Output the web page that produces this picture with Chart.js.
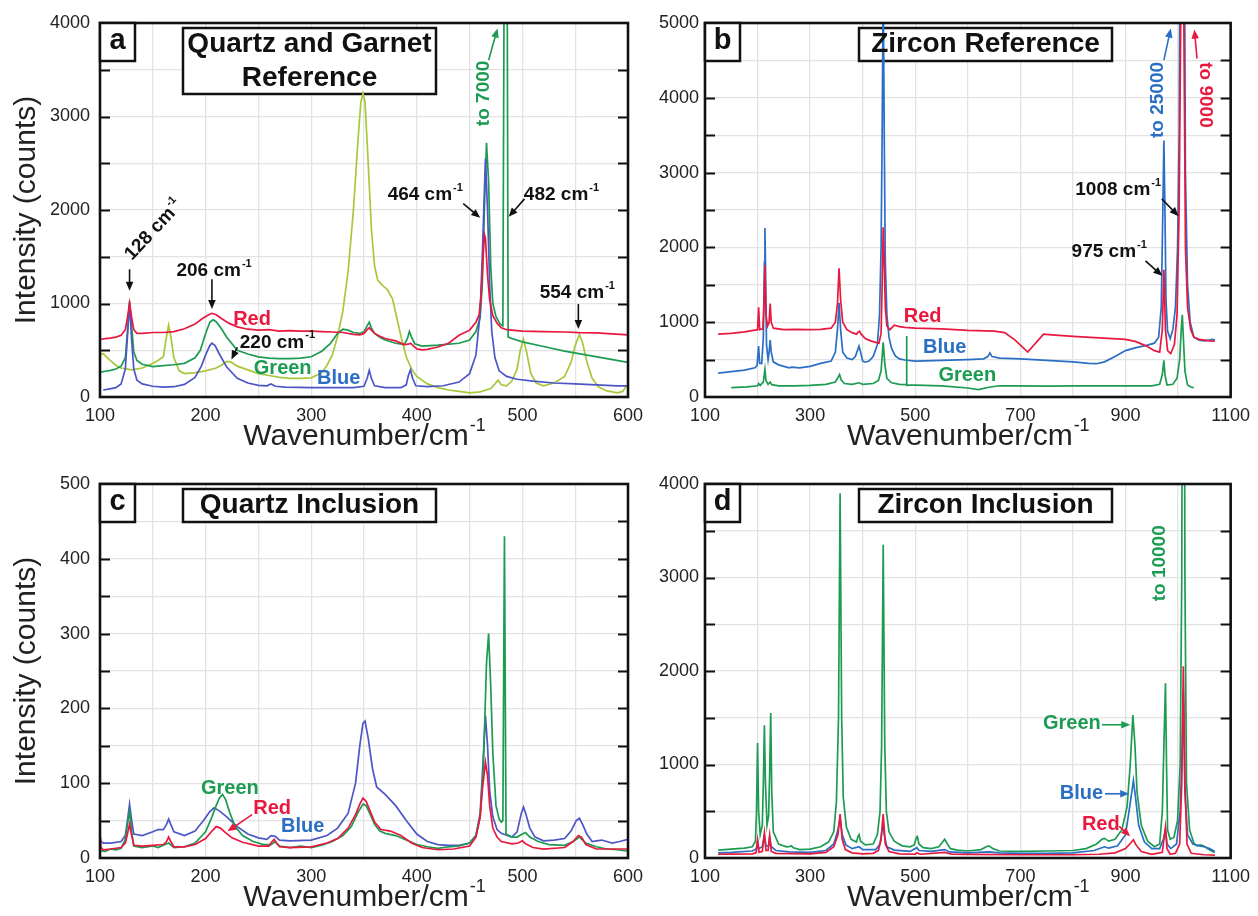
<!DOCTYPE html>
<html>
<head>
<meta charset="utf-8">
<script src="https://cdn.jsdelivr.net/npm/chart.js@4.4.1/dist/chart.umd.min.js"></script>
<style>
  html, body { margin: 0; padding: 0; background: #fff; width: 1258px; height: 916px; overflow: hidden; }
  .panel { position: absolute; }
  canvas { display: block; }
</style>
</head>
<body>
<div class="panel" style="left:0;top:0"><canvas id="panelA" width="660" height="458"></canvas></div>
<div class="panel" style="left:620px;top:0"><canvas id="panelB" width="638" height="458"></canvas></div>
<div class="panel" style="left:0;top:460px"><canvas id="panelC" width="660" height="456"></canvas></div>
<div class="panel" style="left:620px;top:460px"><canvas id="panelD" width="638" height="456"></canvas></div>
<script>
const FONT = "'Liberation Sans', Arial, Helvetica, sans-serif";

// ---- tick labels ----
const quartzXTicks = [100, 200, 300, 400, 500, 600];
const zirconXTicks = [100, 300, 500, 700, 900, 1100];
const quartzRefYTicks = [0, 1000, 2000, 3000, 4000];
const zirconRefYTicks = [0, 1000, 2000, 3000, 4000, 5000];
const quartzIncYTicks = [0, 100, 200, 300, 400, 500];
const zirconIncYTicks = [0, 1000, 2000, 3000, 4000];

// ---- (a) quartz and garnet reference spectra: [wavenumber, counts] ----
const qgRefRed = [[100,615],[105,625],[110,630],[115,640],[120,660],[124,720],[126,850],[128,1005],[130,850],[132,720],[135,680],[140,680],[150,690],[160,690],[170,700],[180,730],[190,780],[197,840],[203,880],[206,895],[210,880],[215,840],[222,790],[230,750],[240,725],[250,715],[260,720],[270,705],[280,710],[290,705],[300,705],[310,700],[320,695],[330,690],[340,670],[346,665],[350,680],[353,720],[355,740],[357,715],[360,680],[365,650],[370,625],[380,600],[388,560],[392,565],[394,575],[396,555],[400,515],[405,505],[410,510],[420,535],[430,575],[440,660],[450,715],[456,800],[459,880],[461,1100],[463,1550],[464,1740],[465,1700],[467,1300],[469,1040],[472,870],[476,790],[480,740],[485,720],[490,715],[500,705],[520,700],[540,695],[554,688],[570,685],[585,675],[600,665]];
const qgRefQuartzGreen = [[100,265],[105,275],[110,285],[115,300],[120,330],[124,420],[126,700],[128,1025],[130,750],[132,480],[135,390],[140,350],[150,325],[160,335],[170,345],[180,360],[190,420],[195,500],[200,680],[204,800],[207,825],[210,805],[215,730],[220,640],[230,500],[240,460],[250,430],[260,415],[270,410],[280,410],[290,415],[300,430],[310,490],[318,570],[325,680],[330,725],[335,715],[340,690],[346,680],[350,700],[353,760],[355,800],[357,740],[360,680],[365,640],[370,610],[380,575],[388,560],[391,620],[393,700],[395,640],[398,570],[405,545],[420,555],[440,575],[450,610],[456,700],[460,850],[462,1200],[464,2000],[466,2720],[468,2300],[470,1400],[472,1000],[475,860],[479,780],[481.5,760],[483.5,7000],[485,7000],[486.5,640],[490,625],[500,590],[520,540],[540,490],[560,450],[580,410],[600,370]];
const qgRefQuartzBlue = [[103,75],[108,85],[115,100],[120,140],[124,300],[126,650],[128,1000],[130,600],[132,300],[135,180],[140,140],[150,115],[160,105],[170,110],[180,135],[190,210],[196,330],[200,450],[204,550],[206,575],[209,550],[213,460],[220,320],[230,200],[240,150],[250,125],[258,120],[262,140],[266,115],[275,105],[300,100],[320,100],[340,100],[350,115],[353,200],[355,285],[357,200],[360,120],[370,100],[385,100],[390,130],[392,230],[394,290],[396,200],[399,120],[410,110],[425,120],[440,160],[450,250],[456,450],[460,900],[462,1500],[465,2550],[467,2000],[469,1200],[471,700],[474,420],[478,280],[485,220],[495,190],[510,170],[530,150],[550,140],[570,130],[590,120],[600,120]];
const qgRefGarnet = [[100,450],[103,465],[106,430],[110,390],[115,340],[120,310],[130,290],[140,310],[150,360],[155,390],[160,430],[163,650],[165,770],[167,650],[170,420],[175,280],[180,250],[190,260],[200,280],[210,310],[215,340],[220,380],[224,375],[230,330],[240,290],[250,250],[260,230],[270,210],[280,200],[290,200],[300,205],[310,260],[315,340],[320,450],[325,650],[330,920],[335,1350],[340,2000],[344,2700],[347,3150],[349,3250],[351,3150],[354,2500],[357,1800],[360,1400],[363,1250],[367,1200],[372,1150],[377,1050],[381,850],[385,650],[390,430],[395,300],[400,220],[410,140],[420,100],[430,75],[440,60],[450,45],[460,55],[470,90],[474,140],[477,180],[480,130],[485,120],[490,170],[495,300],[498,500],[501,620],[504,480],[508,250],[513,150],[520,120],[530,150],[540,220],[546,370],[550,550],[554,670],[557,580],[561,380],[566,200],[572,110],[580,65],[590,45],[595,60],[598,110],[600,130]];

// ---- (b) zircon reference spectra ----
const zrRefRed = [[125,840],[150,850],[175,870],[195,895],[200,900],[202,1200],[204,900],[210,910],[212,1200],[214,1760],[216,1100],[219,950],[222,1000],[224,1250],[226,1000],[230,920],[250,900],[270,905],[300,900],[320,905],[340,920],[348,1000],[352,1250],[355,1720],[358,1300],[362,1000],[370,900],[380,860],[388,840],[392,870],[394,880],[397,840],[405,780],[415,750],[425,730],[431,720],[435,850],[437,1500],[439,2270],[441,1800],[443,1200],[446,950],[452,900],[460,960],[470,940],[480,930],[500,920],[550,910],[600,890],[650,880],[670,860],[690,760],[714,600],[744,840],[760,830],[800,810],[850,790],[900,770],[920,740],[940,680],[955,620],[965,600],[970,900],[973,1700],[976,900],[980,620],[986,580],[993,700],[998,1100],[1002,2500],[1005,5000],[1008,9000],[1011,5000],[1014,2000],[1018,1200],[1024,900],[1030,800],[1040,770],[1050,760],[1060,750],[1070,745]];
const zrRefBlue = [[125,320],[150,340],[175,360],[195,390],[199,420],[202,680],[204,450],[208,450],[211,800],[213,1800],[214,2260],[215,1800],[217,700],[220,500],[222,600],[224,760],[226,600],[230,470],[240,430],[260,390],[265,400],[280,390],[300,410],[320,450],[340,480],[348,600],[352,900],[355,1260],[358,900],[362,600],[370,520],[380,500],[386,540],[390,620],[393,680],[396,600],[400,480],[405,465],[412,480],[420,540],[428,700],[432,1100],[435,2000],[437,3500],[439,5600],[441,3500],[443,1800],[446,1100],[450,800],[455,650],[462,550],[470,510],[480,495],[500,480],[550,490],[600,500],[630,510],[638,540],[642,590],[646,540],[660,520],[700,510],[750,490],[800,470],[830,450],[845,445],[860,470],[880,540],[900,620],[920,660],[940,690],[955,720],[963,800],[968,1200],[971,2500],[973,3430],[975,2500],[977,1300],[980,880],[985,780],[990,900],[995,1200],[999,2000],[1002,3500],[1005,8000],[1008,25000],[1011,8000],[1014,3000],[1018,1500],[1023,1000],[1030,800],[1040,760],[1050,750],[1060,760],[1065,770],[1070,760]];
const zrRefGreen = [[150,125],[180,135],[200,150],[202,180],[205,155],[211,200],[214,370],[216,220],[220,170],[224,200],[227,165],[240,150],[270,150],[300,155],[330,170],[348,200],[353,260],[356,300],[359,230],[365,180],[380,170],[393,190],[400,170],[420,180],[430,220],[435,350],[439,730],[442,450],[446,250],[455,190],[470,170],[483,165],[483.5,815],[484,160],[500,160],[550,150],[600,120],[620,100],[640,130],[660,150],[700,150],[750,145],[800,150],[850,150],[900,150],[950,150],[965,170],[970,300],[973,490],[975,300],[979,160],[990,170],[998,250],[1003,500],[1006,900],[1008,1100],[1010,800],[1013,350],[1018,160],[1025,130],[1030,125]];

// ---- (c) quartz inclusion spectra ----
const qzIncBlue = [[100,30],[101,22],[103,20],[110,20],[120,22],[124,30],[126,50],[128,72],[130,50],[132,32],[140,30],[150,35],[155,38],[160,38],[163,45],[165,52],[167,45],[170,35],[180,30],[190,36],[198,50],[204,62],[208,67],[213,63],[220,55],[230,42],[240,32],[250,27],[258,25],[262,30],[266,29],[270,24],[280,23],[300,24],[315,30],[325,40],[335,60],[342,100],[346,150],[349,180],[351,183],[354,160],[358,120],[362,95],[370,85],[380,70],[390,50],[400,32],[410,22],[420,18],[430,17],[440,17],[450,20],[456,30],[460,60],[462,110],[465,190],[467,150],[469,90],[472,55],[476,38],[480,33],[490,28],[495,35],[499,60],[501,68],[503,60],[507,40],[512,28],[520,23],[530,24],[540,26],[546,36],[551,50],[554,53],[557,45],[561,32],[566,22],[575,24],[585,20],[592,22],[600,25]];
const qzIncRed = [[100,28],[101,14],[103,11],[110,12],[120,14],[124,20],[126,32],[128,45],[130,30],[132,17],[140,16],[150,17],[160,18],[163,22],[165,28],[167,22],[170,15],[180,15],[190,18],[200,26],[206,36],[210,42],[214,40],[218,35],[225,27],[235,21],[250,16],[260,16],[263,22],[265,25],[267,20],[270,15],[280,14],[300,15],[315,20],[325,26],[335,40],[342,58],[346,72],[349,80],[352,76],[356,62],[360,48],[366,38],[375,36],[385,30],[395,20],[405,14],[420,11],[435,12],[450,16],[456,28],[460,55],[462,90],[465,128],[467,110],[469,70],[472,40],[476,28],[480,22],[490,19],[496,20],[500,23],[503,19],[510,14],[520,12],[540,14],[548,22],[553,30],[556,28],[560,18],[570,12],[585,12],[600,12]];
const qzIncGreen = [[100,10],[105,9],[110,12],[115,11],[120,13],[124,25],[126,45],[128,62],[130,35],[132,16],[140,14],[150,16],[155,14],[160,17],[165,20],[170,14],[180,15],[190,20],[200,35],[206,55],[210,70],[213,80],[216,85],[219,78],[223,60],[228,42],[235,30],[245,22],[255,18],[262,18],[266,22],[270,16],[280,14],[290,16],[300,14],[310,17],[320,22],[330,30],[338,42],[344,60],[349,72],[352,70],[356,58],[360,45],[365,36],[370,33],[380,30],[390,24],[400,18],[410,15],[420,13],[430,15],[440,16],[450,20],[456,30],[460,55],[463,120],[466,260],[468,300],[470,230],[472,140],[475,70],[478,52],[480,48],[481.5,50],[483,430],[484.5,32],[490,28],[495,28],[500,32],[503,34],[507,28],[515,22],[525,18],[540,17],[548,22],[554,28],[560,20],[570,15],[580,12],[590,11],[600,9]];

// ---- (d) zircon inclusion spectra ----
const zrIncGreen = [[125,85],[150,95],[175,105],[190,120],[196,180],[198,500],[200,1230],[202,500],[205,250],[209,350],[211,800],[213,1420],[215,800],[218,350],[221,450],[223,900],[225,1550],[227,700],[230,280],[240,150],[255,120],[262,125],[264,130],[268,110],[280,90],[300,95],[320,120],[335,170],[345,280],[350,600],[354,1500],[357,3900],[360,1500],[363,650],[369,330],[378,200],[388,170],[391,230],[393,250],[396,180],[405,140],[420,150],[428,250],[433,500],[436,1200],[439,3350],[442,1200],[445,500],[450,280],[460,180],[475,130],[490,120],[498,140],[502,220],[504,230],[507,150],[515,110],[530,100],[545,120],[552,170],[556,200],[560,160],[567,100],[580,85],[600,75],[625,90],[635,120],[640,130],[648,100],[660,75],[700,70],[750,75],[800,80],[825,100],[845,150],[855,200],[860,210],[868,180],[880,200],[893,300],[903,550],[909,1000],[914,1530],[918,1200],[922,700],[930,350],[942,180],[955,120],[965,150],[970,500],[973,1200],[976,1870],[978,1000],[980,300],[985,200],[992,220],[999,400],[1004,1000],[1007,3000],[1010,10000],[1013,3000],[1016,800],[1022,300],[1030,160],[1036,130],[1042,140],[1048,130],[1056,100],[1065,70],[1070,60]];
const zrIncBlue = [[125,55],[150,60],[190,75],[198,100],[200,180],[202,100],[209,120],[213,240],[216,130],[221,130],[223,220],[226,120],[235,80],[260,65],[300,60],[330,80],[345,150],[352,280],[357,420],[361,250],[368,140],[380,100],[393,120],[400,90],[425,90],[433,150],[437,300],[439,380],[441,250],[446,120],[460,85],[490,70],[503,110],[507,80],[530,70],[556,90],[565,65],[600,55],[640,65],[660,55],[700,50],[750,50],[800,55],[840,80],[855,110],[860,120],[868,105],[885,130],[900,250],[908,550],[915,830],[919,650],[925,350],[936,170],[950,100],[965,100],[972,200],[976,300],[979,150],[986,100],[997,150],[1004,500],[1008,1200],[1010,1800],[1013,700],[1018,250],[1028,150],[1040,130],[1050,120],[1060,100],[1070,70]];
const zrIncRed = [[125,40],[150,42],[190,45],[197,55],[200,190],[203,60],[209,70],[213,270],[216,80],[220,80],[223,240],[226,70],[235,50],[300,45],[330,60],[345,120],[353,250],[357,470],[361,200],[367,90],[380,55],[400,45],[420,50],[430,80],[435,200],[439,470],[443,150],[450,70],[470,45],[500,40],[503,55],[510,40],[556,60],[570,40],[600,38],[700,35],[800,35],[850,40],[880,55],[900,100],[910,160],[915,195],[920,140],[930,70],[950,40],[970,60],[973,200],[976,330],[979,100],[985,40],[995,50],[1003,150],[1007,800],[1010,2050],[1013,800],[1017,150],[1025,50],[1050,35],[1070,30]];

// ---- colours ----
const RED = '#e8183e';
const GREEN = '#1c9b52';
const QZ_BLUE = '#4d56c6';
const ZR_BLUE = '#2a6fc4';
const GARNET = '#a8c83c';
const INK = '#111';

// ---- drawing helpers ----
function textWithSup(ctx, main, sup, size, color) {
  ctx.fillStyle = color;
  ctx.textBaseline = 'middle';
  ctx.textAlign = 'left';
  ctx.font = `bold ${size}px ${FONT}`;
  const w1 = ctx.measureText(main).width;
  const supSize = Math.round(size * 0.6);
  ctx.font = `bold ${supSize}px ${FONT}`;
  const w2 = sup ? ctx.measureText(sup).width + 1 : 0;
  const x0 = -(w1 + w2) / 2;
  ctx.font = `bold ${size}px ${FONT}`;
  ctx.fillText(main, x0, 0);
  if (sup) {
    ctx.font = `bold ${supSize}px ${FONT}`;
    ctx.fillText(sup, x0 + w1 + 1, -size * 0.36);
  }
}

function arrow(ctx, x1, y1, x2, y2, color) {
  const ang = Math.atan2(y2 - y1, x2 - x1);
  const head = 9, half = 3.8;
  ctx.strokeStyle = color;
  ctx.fillStyle = color;
  ctx.lineWidth = 1.6;
  ctx.beginPath();
  ctx.moveTo(x1, y1);
  ctx.lineTo(x2 - Math.cos(ang) * head * 0.8, y2 - Math.sin(ang) * head * 0.8);
  ctx.stroke();
  ctx.beginPath();
  ctx.moveTo(x2, y2);
  ctx.lineTo(x2 - head * Math.cos(ang) + half * Math.sin(ang), y2 - head * Math.sin(ang) - half * Math.cos(ang));
  ctx.lineTo(x2 - head * Math.cos(ang) - half * Math.sin(ang), y2 - head * Math.sin(ang) + half * Math.cos(ang));
  ctx.closePath();
  ctx.fill();
}

function box(ctx, x, y, w, h) {
  ctx.fillStyle = '#fff';
  ctx.fillRect(x, y, w, h);
  ctx.strokeStyle = INK;
  ctx.lineWidth = 2.5;
  ctx.strokeRect(x, y, w, h);
}

// Frame, inward ticks, labels, arrows, panel letter and title boxes
const panelDecor = {
  id: 'panelDecor',
  beforeDatasetsDraw(chart, args, o) {
    const { ctx, chartArea: ca } = chart;
    ctx.save();
    box(ctx, ca.left + o.titleBox.dx, ca.top + 5, o.titleBox.w, o.titleBox.h);
    ctx.restore();
  },
  afterDatasetsDraw(chart, args, o) {
    const { ctx, chartArea: ca, scales: { x, y } } = chart;
    ctx.save();
    // inward tick marks on both vertical edges
    ctx.strokeStyle = INK;
    ctx.lineWidth = 2;
    y.ticks.forEach(t => {
      if (t.value <= y.min || t.value >= y.max) return;
      const py = Math.round(y.getPixelForValue(t.value)) + 0.5;
      ctx.beginPath();
      ctx.moveTo(ca.left, py); ctx.lineTo(ca.left + 10, py);
      ctx.moveTo(ca.right, py); ctx.lineTo(ca.right - 10, py);
      ctx.stroke();
    });
    // plot frame
    ctx.lineWidth = 2.6;
    ctx.strokeRect(ca.left, ca.top, ca.right - ca.left, ca.bottom - ca.top);

    // panel letter box
    box(ctx, ca.left, ca.top, 35, 38);
    ctx.fillStyle = INK;
    ctx.font = `bold 29px ${FONT}`;
    ctx.textAlign = 'center';
    ctx.textBaseline = 'middle';
    ctx.fillText(o.letter, ca.left + 17.5, ca.top + 18);

    // title text
    ctx.font = `bold 28px ${FONT}`;
    const tcx = ca.left + o.titleBox.dx + o.titleBox.w / 2;
    o.title.forEach((line, i) => ctx.fillText(line, tcx, ca.top + 21 + i * 34));

    // arrows
    o.arrows.forEach(a => arrow(ctx, x.getPixelForValue(a[0]), y.getPixelForValue(a[1]),
      x.getPixelForValue(a[2]), y.getPixelForValue(a[3]), a[4] || INK));

    // annotation labels
    o.notes.forEach(n => {
      ctx.save();
      ctx.translate(x.getPixelForValue(n.x), y.getPixelForValue(n.y));
      if (n.rot) ctx.rotate(n.rot * Math.PI / 180);
      textWithSup(ctx, n.t, n.s, n.size || 19, n.color || INK);
      ctx.restore();
    });

    // axis titles
    ctx.fillStyle = '#222';
    ctx.textBaseline = 'middle';
    ctx.font = `30px ${FONT}`;
    const main = 'Wavenumber/cm';
    const w1 = ctx.measureText(main).width;
    ctx.font = `18px ${FONT}`;
    const w2 = ctx.measureText('-1').width;
    const x0 = (ca.left + ca.right) / 2 - (w1 + w2) / 2;
    const ty = ca.bottom + 40;
    ctx.textAlign = 'left';
    ctx.font = `30px ${FONT}`;
    ctx.fillText(main, x0, ty);
    ctx.font = `18px ${FONT}`;
    ctx.fillText('-1', x0 + w1 + 1, ty - 11);
    if (o.yTitle) {
      ctx.save();
      ctx.translate(27, (ca.top + ca.bottom) / 2);
      ctx.rotate(-Math.PI / 2);
      ctx.textAlign = 'center';
      ctx.font = `30px ${FONT}`;
      ctx.fillText('Intensity (counts)', 0, 0);
      ctx.restore();
    }
    ctx.restore();
  }
};

function buildPanel(id, cfg) {
  return new Chart(document.getElementById(id), {
    type: 'line',
    data: {
      datasets: cfg.series.map(s => ({
        data: s.pts.map(p => ({ x: p[0], y: p[1] })),
        borderColor: s.color,
        borderWidth: 1.7,
        pointRadius: 0,
        tension: 0,
        fill: false
      }))
    },
    options: {
      responsive: false,
      animation: false,
      events: [],
      layout: { padding: cfg.pad },
      plugins: { legend: { display: false }, tooltip: { enabled: false }, panelDecor: cfg.decor },
      scales: {
        x: {
          type: 'linear', min: cfg.xRange[0], max: cfg.xRange[1],
          afterFit: s => { s.height = cfg.xAxisH; },
          grid: { color: '#e3e3e3', lineWidth: 1.3, drawTicks: false },
          border: { display: false },
          ticks: {
            stepSize: cfg.xStep, autoSkip: false, maxRotation: 0, padding: 8, color: '#222',
            font: { family: FONT, size: 18 },
            callback: v => cfg.xTicks.includes(v) ? String(v) : ''
          }
        },
        y: {
          type: 'linear', min: cfg.yRange[0], max: cfg.yRange[1],
          afterFit: s => { s.width = cfg.yAxisW; },
          grid: { color: '#e3e3e3', lineWidth: 1.3, drawTicks: false },
          border: { display: false },
          ticks: {
            stepSize: cfg.yStep, autoSkip: false, padding: cfg.yPad, color: '#222',
            font: { family: FONT, size: 18 },
            callback: v => cfg.yTicks.includes(v) ? String(v) : ''
          }
        }
      }
    },
    plugins: [panelDecor]
  });
}

// (a) Quartz and Garnet Reference
buildPanel('panelA', {
  series: [
    { pts: qgRefRed, color: RED },
    { pts: qgRefQuartzBlue, color: QZ_BLUE },
    { pts: qgRefQuartzGreen, color: GREEN },
    { pts: qgRefGarnet, color: GARNET }
  ],
  xRange: [100, 600], xStep: 50, xTicks: quartzXTicks,
  yRange: [0, 4000], yStep: 500, yTicks: quartzRefYTicks,
  pad: { top: 23, right: 32, bottom: 0, left: 0 }, yAxisW: 100, xAxisH: 61, yPad: 10,
  decor: {
    letter: 'a', title: ['Quartz and Garnet', 'Reference'], titleBox: { dx: 83, w: 253, h: 66 }, yTitle: true,
    notes: [
      { t: '128 cm', s: '-1', x: 151, y: 1786, rot: -47 },
      { t: '206 cm', s: '-1', x: 208, y: 1349 },
      { t: '220 cm', s: '-1', x: 268, y: 585 },
      { t: '464 cm', s: '-1', x: 408, y: 2165 },
      { t: '482 cm', s: '-1', x: 537, y: 2165 },
      { t: '554 cm', s: '-1', x: 552, y: 1111 },
      { t: 'to 7000', x: 463.7, y: 3247, rot: -90, color: GREEN },
      { t: 'Red', x: 244, y: 834, color: RED, size: 20 },
      { t: 'Green', x: 273, y: 309, color: GREEN, size: 20 },
      { t: 'Blue', x: 326, y: 195, color: ZR_BLUE, size: 20 }
    ],
    arrows: [
      [128, 1366, 128, 1136],
      [206, 1260, 206, 940],
      [230, 532, 224.5, 401],
      [444, 2069, 460, 1916],
      [502, 2119, 487, 1927],
      [553, 994, 553, 728],
      [468, 3602, 476.4, 3940, GREEN]
    ]
  }
});

// (b) Zircon Reference
buildPanel('panelB', {
  series: [
    { pts: zrRefRed, color: RED },
    { pts: zrRefGreen, color: GREEN },
    { pts: zrRefBlue, color: ZR_BLUE }
  ],
  xRange: [100, 1100], xStep: 100, xTicks: zirconXTicks,
  yRange: [0, 5000], yStep: 500, yTicks: zirconRefYTicks,
  pad: { top: 23, right: 23, bottom: 0, left: 0 }, yAxisW: 85, xAxisH: 61, yPad: 6,
  decor: {
    letter: 'b', title: ['Zircon Reference'], titleBox: { dx: 154, w: 253, h: 33 }, yTitle: false,
    notes: [
      { t: '1008 cm', s: '-1', x: 886, y: 2764 },
      { t: '975 cm', s: '-1', x: 869, y: 1939 },
      { t: 'to 25000', x: 961, y: 3971, rot: -90, color: ZR_BLUE },
      { t: 'to 9000', x: 1052, y: 4038, rot: 90, color: RED },
      { t: 'Red', x: 514, y: 1078, color: RED, size: 20 },
      { t: 'Blue', x: 556, y: 666, color: ZR_BLUE, size: 20 },
      { t: 'Green', x: 599, y: 288, color: GREEN, size: 20 }
    ],
    arrows: [
      [969, 2649, 1001, 2418],
      [938, 1819, 970, 1620],
      [973, 4504, 986, 4925, ZR_BLUE],
      [1036, 4526, 1031, 4912, RED]
    ]
  }
});

// (c) Quartz Inclusion
buildPanel('panelC', {
  series: [
    { pts: qzIncRed, color: RED },
    { pts: qzIncGreen, color: GREEN },
    { pts: qzIncBlue, color: QZ_BLUE }
  ],
  xRange: [100, 600], xStep: 50, xTicks: quartzXTicks,
  yRange: [0, 500], yStep: 50, yTicks: quartzIncYTicks,
  pad: { top: 24, right: 32, bottom: 0, left: 0 }, yAxisW: 100, xAxisH: 58, yPad: 10,
  decor: {
    letter: 'c', title: ['Quartz Inclusion'], titleBox: { dx: 83, w: 253, h: 33 }, yTitle: true,
    notes: [
      { t: 'Green', x: 223, y: 93.5, color: GREEN, size: 20 },
      { t: 'Red', x: 263, y: 66.8, color: RED, size: 20 },
      { t: 'Blue', x: 292, y: 42.3, color: ZR_BLUE, size: 20 }
    ],
    arrows: [
      [244, 57.9, 220.7, 35.6, RED]
    ]
  }
});

// (d) Zircon Inclusion
buildPanel('panelD', {
  series: [
    { pts: zrIncRed, color: RED },
    { pts: zrIncBlue, color: ZR_BLUE },
    { pts: zrIncGreen, color: GREEN }
  ],
  xRange: [100, 1100], xStep: 100, xTicks: zirconXTicks,
  yRange: [0, 4000], yStep: 500, yTicks: zirconIncYTicks,
  pad: { top: 24, right: 23, bottom: 0, left: 0 }, yAxisW: 85, xAxisH: 58, yPad: 6,
  decor: {
    letter: 'd', title: ['Zircon Inclusion'], titleBox: { dx: 154, w: 253, h: 33 }, yTitle: false,
    notes: [
      { t: 'to 10000', x: 965, y: 3152, rot: -90, color: GREEN },
      { t: 'Green', x: 798, y: 1443, color: GREEN, size: 20 },
      { t: 'Blue', x: 816, y: 695, color: ZR_BLUE, size: 20 },
      { t: 'Red', x: 853, y: 356, color: RED, size: 20 }
    ],
    arrows: [
      [855, 1425, 909, 1425, GREEN],
      [861, 687, 907, 687, ZR_BLUE],
      [888, 338, 909, 232, RED]
    ]
  }
});
</script>
</body>
</html>
